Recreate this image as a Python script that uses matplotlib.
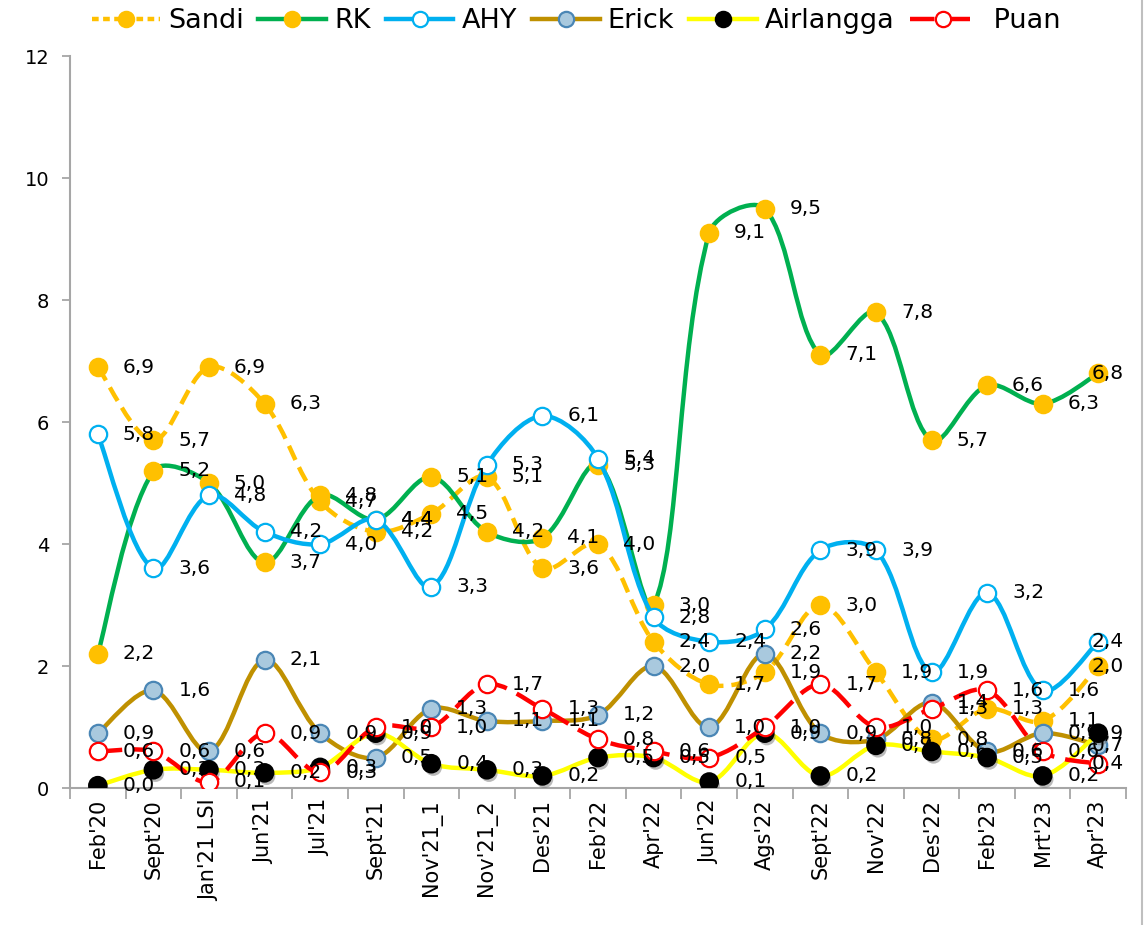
import matplotlib
matplotlib.use("Agg")
import matplotlib.pyplot as plt
import matplotlib.patheffects as pe
from matplotlib.path import Path
from matplotlib.patches import PathPatch
from matplotlib.lines import Line2D
import numpy as np

periods = ["Feb'20", "Sept'20", "Jan'21 LSI", "Jun'21", "Jul'21", "Sept'21", "Nov'21_1",
           "Nov'21_2", "Des'21", "Feb'22", "Apr'22", "Jun'22", "Ags'22", "Sept'22",
           "Nov'22", "Des'22", "Feb'23", "Mrt'23", "Apr'23"]

sandi = [6.9, 5.7, 6.9, 6.3, 4.7, 4.2, 4.5, 5.1, 3.6, 4.0, 2.4, 1.7, 1.9, 3.0, 1.9, 0.8, 1.3, 1.1, 2.0]
rk = [2.2, 5.2, 5.0, 3.7, 4.8, 4.4, 5.1, 4.2, 4.1, 5.3, 3.0, 9.1, 9.5, 7.1, 7.8, 5.7, 6.6, 6.3, 6.8]
ahy = [5.8, 3.6, 4.8, 4.2, 4.0, 4.4, 3.3, 5.3, 6.1, 5.4, 2.8, 2.4, 2.6, 3.9, 3.9, 1.9, 3.2, 1.6, 2.4]
erick = [0.9, 1.6, 0.6, 2.1, 0.9, 0.5, 1.3, 1.1, 1.1, 1.2, 2.0, 1.0, 2.2, 0.9, 0.8, 1.4, 0.6, 0.9, 0.7]
airlangga = [0.04, 0.3, 0.3, 0.25, 0.34, 0.9, 0.4, 0.3, 0.2, 0.5, 0.5, 0.1, 0.9, 0.2, 0.7, 0.6, 0.5, 0.2, 0.9]
puan = [0.6, 0.6, 0.1, 0.9, 0.26, 1.0, 1.0, 1.7, 1.3, 0.8, 0.6, 0.5, 1.0, 1.7, 1.0, 1.3, 1.6, 0.6, 0.4]

YSCALE = 61.0 / 55.55  # pixel aspect of one y unit vs one category step


def smooth_path(xs, ys):
    # excel-like smoothed line: bezier with chord-length weighted tangents
    pts = np.column_stack([xs, np.asarray(ys, float) * YSCALE]).astype(float)
    n = len(pts)
    c_out = [None] * n
    c_in = [None] * n
    for i in range(n):
        if i == 0:
            c_out[i] = pts[0] + (pts[1] - pts[0]) / 6.0
            continue
        if i == n - 1:
            c_in[i] = pts[i] - (pts[i] - pts[i - 1]) / 6.0
            continue
        d1 = np.hypot(*(pts[i] - pts[i - 1]))
        d2 = np.hypot(*(pts[i + 1] - pts[i]))
        t = pts[i + 1] - pts[i - 1]
        c_out[i] = pts[i] + t * d2 / (d1 + d2) / 3.0
        c_in[i] = pts[i] - t * d1 / (d1 + d2) / 3.0
    verts = [pts[0]]
    codes = [Path.MOVETO]
    for i in range(n - 1):
        verts += [c_out[i], c_in[i + 1], pts[i + 1]]
        codes += [Path.CURVE4] * 3
    verts = np.array(verts)
    verts[:, 1] /= YSCALE
    return Path(verts, codes)


series = [
    ("Sandi", sandi, "#FFC000", (0, (3.5, 1.8)), "#FFC000", "#FFC000"),
    ("RK", rk, "#00B050", "-", "#FFC000", "#FFC000"),
    ("AHY", ahy, "#00B0F0", "-", "white", "#00B0F0"),
    ("Erick", erick, "#BF9000", "-", "#A9C9DE", "#4A86B5"),
    ("Airlangga", airlangga, "#FFFF00", "-", "black", "black"),
    ("Puan", puan, "#FF0000", (0, (5.5, 2.5)), "white", "#FF0000"),
]

fig = plt.figure(figsize=(11.46, 9.25), dpi=100)
ax = fig.add_axes([0.0611, 0.148, 0.9215, 0.7914])

x = np.arange(len(periods))
handles = []
for k, (name, vals, lc, ls, mfc, mec) in enumerate(series):
    z = 2 + k
    patch = PathPatch(smooth_path(x, vals), fill=False, edgecolor=lc, lw=3.2,
                      linestyle=ls, capstyle="butt", zorder=z)
    ax.add_patch(patch)
    peff = None
    if name == "Airlangga":
        peff = [pe.SimplePatchShadow(offset=(1.5, -2.5), shadow_rgbFace="#777777", alpha=0.5),
                pe.Normal()]
    ax.plot(x, vals, linestyle="none", marker="o", markersize=12.5, markerfacecolor=mfc,
            markeredgecolor=mec, markeredgewidth=1.6, zorder=z + 0.5, path_effects=peff)
    handles.append(Line2D([0], [0], color=lc, lw=3.2, linestyle=ls if name != "Sandi" else (0, (1.5, 1.0)),
                          marker="o", markersize=11, markerfacecolor=mfc, markeredgecolor=mec,
                          markeredgewidth=1.6))

    for i, v in enumerate(vals):
        dx = 18 if i < len(vals) - 1 else -5
        ax.annotate(f"{v:.1f}".replace(".", ","), (i, v), xytext=(dx, 0),
                    textcoords="offset points", ha="left", va="center",
                    fontsize=14.5, color="black", zorder=20)

ax.set_xlim(-0.5, len(periods) - 0.5)
ax.set_ylim(0, 12)
ax.set_yticks(range(0, 13, 2))
ax.set_xticks(x)
ax.set_xticklabels(periods, rotation=90, fontsize=15)
ax.set_xticks(np.arange(-0.5, len(periods), 1.0), minor=True)
ax.tick_params(axis="x", which="major", length=0, pad=8)
ax.tick_params(axis="x", which="minor", length=8, width=1.3, color="#A6A6A6", direction="out")
ax.tick_params(axis="y", labelsize=14, length=6, width=1.3, color="#A6A6A6", pad=9)

for side in ["top", "right"]:
    ax.spines[side].set_visible(False)
for side in ["left", "bottom"]:
    ax.spines[side].set_color("#A6A6A6")
    ax.spines[side].set_linewidth(1.5)

fig.legend(handles, [s[0] if s[0] != "Puan" else " Puan" for s in series], loc="center",
           bbox_to_anchor=(0.503, 0.977), ncol=6, frameon=False, fontsize=19.5,
           handlelength=2.5, handletextpad=0.3, columnspacing=0.55)

fig.add_artist(Line2D([0.9965, 0.9965], [0.0, 1.0], color="#BFBFBF", lw=1.5))

fig.savefig("out.png", dpi=100)
